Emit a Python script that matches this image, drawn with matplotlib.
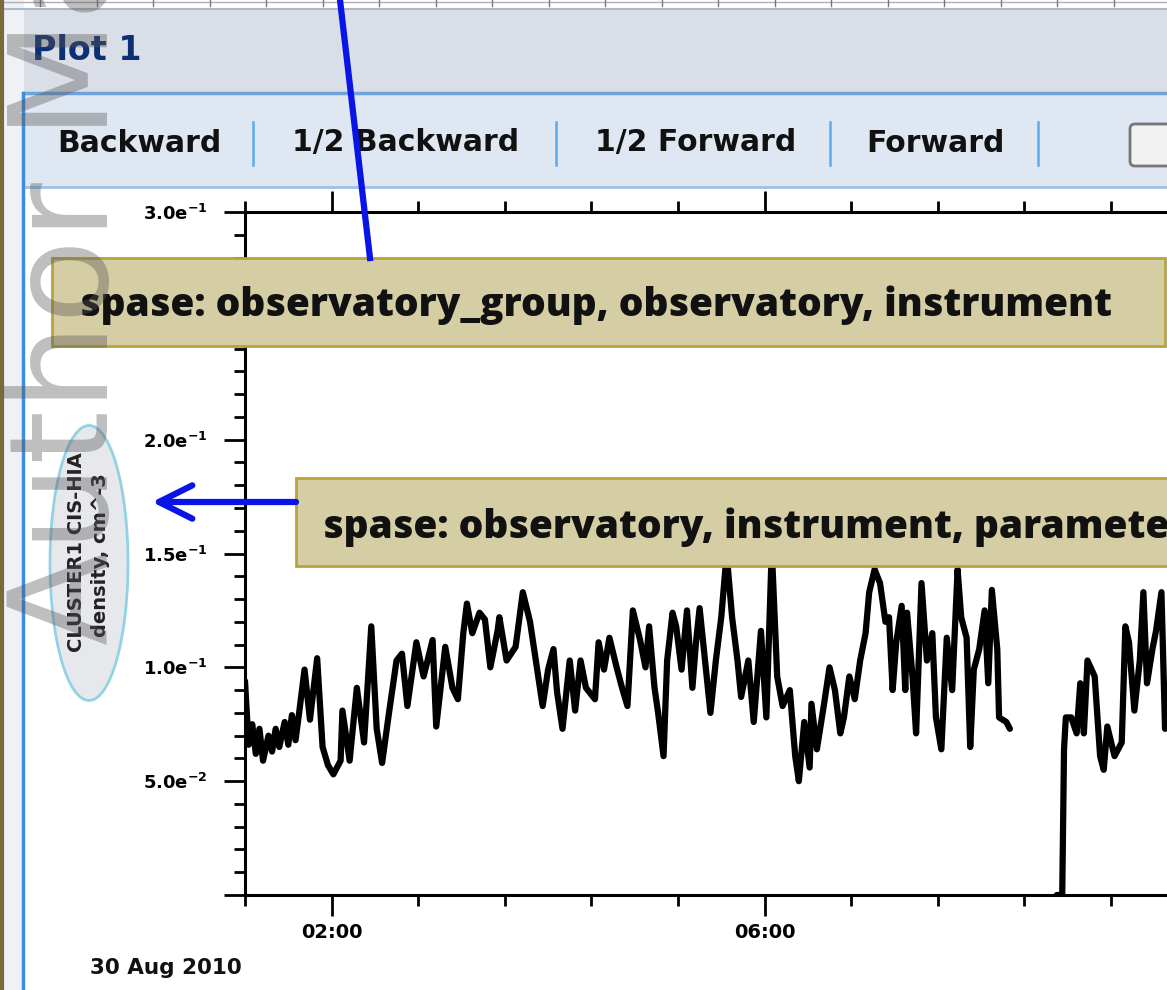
import numpy as np
import matplotlib
matplotlib.use('Agg')
import matplotlib.pyplot as plt
from matplotlib.patches import Rectangle, FancyBboxPatch, FancyArrowPatch, Ellipse
from matplotlib.lines import Line2D
from matplotlib.transforms import Affine2D
from matplotlib.ticker import FixedLocator, FuncFormatter

# CLUSTER1 CIS-HIA density, 30 Aug 2010 (UT as HH:MM, density in cm^-3), nan = data gap
times = [
    "01:12", "01:14", "01:16", "01:18", "01:20", "01:22", "01:25", "01:27", "01:29", "01:31",
    "01:34", "01:36", "01:38", "01:40", "01:42", "01:45", "01:48", "01:52", "01:55", "01:58",
    "02:01", "02:05", "02:06", "02:10", "02:14", "02:18", "02:22", "02:25", "02:28", "02:32",
    "02:36", "02:39", "02:42", "02:47", "02:51", "02:56", "02:58", "03:03", "03:07", "03:10",
    "03:13", "03:15", "03:18", "03:22", "03:25", "03:28", "03:32", "03:33", "03:37", "03:42",
    "03:46", "03:50", "03:54", "03:57", "04:00", "04:03", "04:05", "04:08", "04:12", "04:15",
    "04:18", "04:21", "04:26", "04:28", "04:31", "04:34", "04:38", "04:41", "04:44", "04:47",
    "04:51", "04:54", "04:56", "04:59", "05:01", "05:04", "05:06", "05:09", "05:11", "05:14",
    "05:17", "05:20", "05:22", "05:24", "05:27", "05:30", "05:33", "05:36", "05:39", "05:42",
    "05:45", "05:47", "05:51", "05:54", "05:58", "06:01", "06:04", "06:07", "06:10", "06:14",
    "06:17", "06:19", "06:22", "06:25", "06:26", "06:29", "06:33", "06:36", "06:39", "06:42",
    "06:44", "06:47", "06:50", "06:53", "06:56", "06:58", "07:01", "07:04", "07:07", "07:09",
    "07:11", "07:13", "07:16", "07:18", "07:19", "07:22", "07:24", "07:27", "07:30", "07:33",
    "07:35", "07:38", "07:41", "07:44", "07:47", "07:49", "07:52", "07:54", "07:56", "07:59",
    "08:02", "08:04", "08:06", "08:09", "08:10", "08:14", "08:16", "08:30", "08:42", "08:45",
    "08:46", "08:47", "08:50", "08:53", "08:55", "08:57", "08:59", "09:03", "09:06", "09:08",
    "09:10", "09:14", "09:18", "09:20", "09:22", "09:25", "09:28", "09:30", "09:32", "09:35",
    "09:37", "09:40", "09:42", "09:45",
]
density = [
    0.094, 0.066, 0.075, 0.062, 0.073, 0.059, 0.070, 0.063, 0.073, 0.065,
    0.076, 0.066, 0.079, 0.068, 0.080, 0.099, 0.077, 0.104, 0.065, 0.057,
    0.053, 0.059, 0.081, 0.059, 0.091, 0.067, 0.118, 0.073, 0.058, 0.081,
    0.103, 0.106, 0.083, 0.111, 0.096, 0.112, 0.074, 0.109, 0.091, 0.086,
    0.115, 0.128, 0.115, 0.124, 0.121, 0.100, 0.116, 0.122, 0.103, 0.109,
    0.133, 0.120, 0.099, 0.083, 0.099, 0.108, 0.089, 0.073, 0.103, 0.081,
    0.103, 0.091, 0.086, 0.111, 0.099, 0.113, 0.100, 0.091, 0.083, 0.125,
    0.112, 0.100, 0.118, 0.091, 0.080, 0.061, 0.103, 0.124, 0.118, 0.099,
    0.125, 0.091, 0.111, 0.126, 0.103, 0.080, 0.103, 0.122, 0.150, 0.122,
    0.103, 0.087, 0.103, 0.076, 0.116, 0.078, 0.152, 0.096, 0.083, 0.090,
    0.061, 0.050, 0.076, 0.056, 0.084, 0.064, 0.084, 0.100, 0.090, 0.071,
    0.078, 0.096, 0.086, 0.103, 0.115, 0.133, 0.143, 0.137, 0.120, 0.122,
    0.090, 0.111, 0.127, 0.090, 0.124, 0.096, 0.071, 0.137, 0.103, 0.115,
    0.078, 0.064, 0.113, 0.090, 0.143, 0.122, 0.113, 0.065, 0.099, 0.108,
    0.125, 0.093, 0.134, 0.108, 0.078, 0.076, 0.073, np.nan, 0.000, 0.000,
    0.064, 0.078, 0.078, 0.071, 0.093, 0.071, 0.103, 0.096, 0.061, 0.055,
    0.074, 0.061, 0.067, 0.118, 0.111, 0.081, 0.103, 0.133, 0.093, 0.108,
    0.116, 0.133, 0.073, 0.094,
]
x_major = [2, 6, 10]
y_major = [0.0, 0.05, 0.10, 0.15, 0.20, 0.25, 0.30]

toolbar = ["Backward", "1/2 Backward", "1/2 Forward", "Forward"]
note1 = "spase: observatory_group, observatory, instrument"
note2 = "spase: observatory, instrument, parameter"
ylabel = ["CLUSTER1 CIS-HIA", "density, cm^-3"]

hours = [int(t[:2]) + int(t[3:]) / 60 for t in times]

W, H = 1167, 990
fig = plt.figure(figsize=(W / 100, H / 100), dpi=100)
fig.patch.set_facecolor('white')
# pixel coordinates, origin top-left
pix = Affine2D().scale(1 / W, -1 / H).translate(0, 1) + fig.transFigure

# ---- window chrome ----
fig.add_artist(Rectangle((0, 10), W, 83, transform=pix, fc='#d9dee7', ec='none', zorder=-3))
fig.add_artist(Rectangle((0, 0), 24, H, transform=pix, fc='#eef1f5', ec='none', zorder=-3))
fig.add_artist(Rectangle((24, 93), W, 94, transform=pix, fc='#dfe7f2', ec='none', zorder=-3))
fig.add_artist(Line2D([0, W], [9, 9], transform=pix, color='#a9b9cc', lw=1.5, zorder=-2))
fig.add_artist(Line2D([0, W], [2, 2], transform=pix, color='#b0b0b0', lw=1, zorder=-2))
for tx in np.arange(40, W, 56.5):
    fig.add_artist(Line2D([tx, tx], [0, 6], transform=pix, color='#777777', lw=1, zorder=-2))
fig.add_artist(Line2D([24, W], [93, 93], transform=pix, color='#6fa3dc', lw=2.5, zorder=-2))
fig.add_artist(Line2D([24, W], [187, 187], transform=pix, color='#9cc0e8', lw=2, zorder=-2))
fig.add_artist(Line2D([23, 23], [93, H], transform=pix, color='#3d8de0', lw=2.5, zorder=-2))
fig.add_artist(Line2D([2, 2], [0, H], transform=pix, color='#7a6a3a', lw=3, zorder=-2))

fig.text(32, 50, "Plot 1", transform=pix, ha='left', va='center', fontsize=24,
         fontweight='bold', color='#0d2f73')

tb_x = [139, 406, 696, 935]
for lab, cx in zip(toolbar, tb_x):
    fig.text(cx, 143, lab, transform=pix, ha='center', va='center', fontsize=21.5,
             fontweight='bold', color='#111111')
for sx in [253, 556, 830, 1038]:
    fig.add_artist(Line2D([sx, sx], [122, 165], transform=pix, color='#5aaaf0', lw=1.8))
fig.add_artist(FancyBboxPatch((1130, 124), 60, 42, boxstyle='round,pad=0,rounding_size=5',
                              transform=pix, fc='#f2f2f2', ec='#777777', lw=2))

# ---- the plot ----
ax = fig.add_axes([245 / W, 1 - 895 / H, (1414 - 245) / W, (895 - 212) / H])
ax.plot(hours, density, color='black', lw=4.5, solid_joinstyle='round', solid_capstyle='round')
ax.set_xlim(1.2, 12.0)
ax.set_ylim(0, 0.3)

ax.xaxis.set_major_locator(FixedLocator(x_major))
ax.xaxis.set_minor_locator(FixedLocator(np.arange(1.2, 12.0, 0.8)))
ax.xaxis.set_major_formatter(FuncFormatter(lambda v, p: f"{int(round(v)):02d}:00"))
ax.yaxis.set_major_locator(FixedLocator(y_major))
ax.yaxis.set_minor_locator(FixedLocator(np.arange(0, 0.301, 0.01)))


def sci(v, p):
    if v == 0:
        return ""
    m, e = f"{v:.1e}".split("e")
    return r"$\mathbf{%s e^{%d}}$" % (m, int(e))


ax.yaxis.set_major_formatter(FuncFormatter(sci))
ax.tick_params(axis='both', which='both', direction='out', width=2, colors='black')
ax.tick_params(axis='x', which='both', top=True, bottom=True)
ax.tick_params(axis='y', which='both', left=True, right=False)
ax.tick_params(which='major', length=15)
ax.tick_params(which='minor', length=8)
ax.tick_params(axis='x', which='major', labelsize=14, pad=5)
ax.tick_params(axis='y', which='major', labelsize=13, pad=12)
for lbl in ax.get_xticklabels():
    lbl.set_fontweight('bold')
for side in ['left', 'bottom', 'top']:
    ax.spines[side].set_linewidth(2.2)
ax.spines['right'].set_visible(False)

fig.text(166, 968, "30 Aug 2010", transform=pix, ha='center', va='center', fontsize=15.5,
         fontweight='bold', color='#111111')

# ---- y label in an ellipse ----
fig.add_artist(Ellipse((89, 563), 78, 275, transform=pix, fc='#e6e8ec', ec='#92d2e4',
                       lw=2, zorder=4))
fig.text(77, 552, ylabel[0], transform=pix, ha='center', va='center', rotation=90,
         fontsize=14, fontweight='bold', color='#222222', zorder=5)
fig.text(101, 555, ylabel[1], transform=pix, ha='center', va='center', rotation=90,
         fontsize=14, fontweight='bold', color='#222222', zorder=5)

# ---- annotation boxes and arrows ----
box_font = ['Open Sans', 'DejaVu Sans']
fig.add_artist(Rectangle((52, 258), 1113, 88, transform=pix, fc='#d5cda3', ec='#b7a53c',
                         lw=2, zorder=6))
fig.text(80, 305, note1, transform=pix, ha='left', va='center', fontsize=28,
         fontweight='heavy', family=box_font, color='#111111', zorder=7)
fig.add_artist(Rectangle((296, 478), 1000, 88, transform=pix, fc='#d5cda3', ec='#b7a53c',
                         lw=2, zorder=6))
fig.text(323, 527, note2, transform=pix, ha='left', va='center', fontsize=28,
         fontweight='heavy', family=box_font, color='#111111', zorder=7)

fig.add_artist(Line2D([340, 370], [0, 258], transform=pix, color='#0a14e6', lw=4.5, zorder=6))
fig.add_artist(FancyArrowPatch((296, 502), (152, 502), transform=pix,
                               arrowstyle='->,head_length=2.4,head_width=1.2',
                               mutation_scale=10, lw=4.5, color='#0a14e6',
                               shrinkA=0, shrinkB=0, zorder=6))

# ---- watermark ----
fig.text(108, 645, "Author Manuscript", transform=pix, rotation=90, rotation_mode='anchor',
         ha='left', va='baseline', fontsize=99, color='#555555', alpha=0.38, zorder=10)

fig.savefig('out.png', dpi=100)
